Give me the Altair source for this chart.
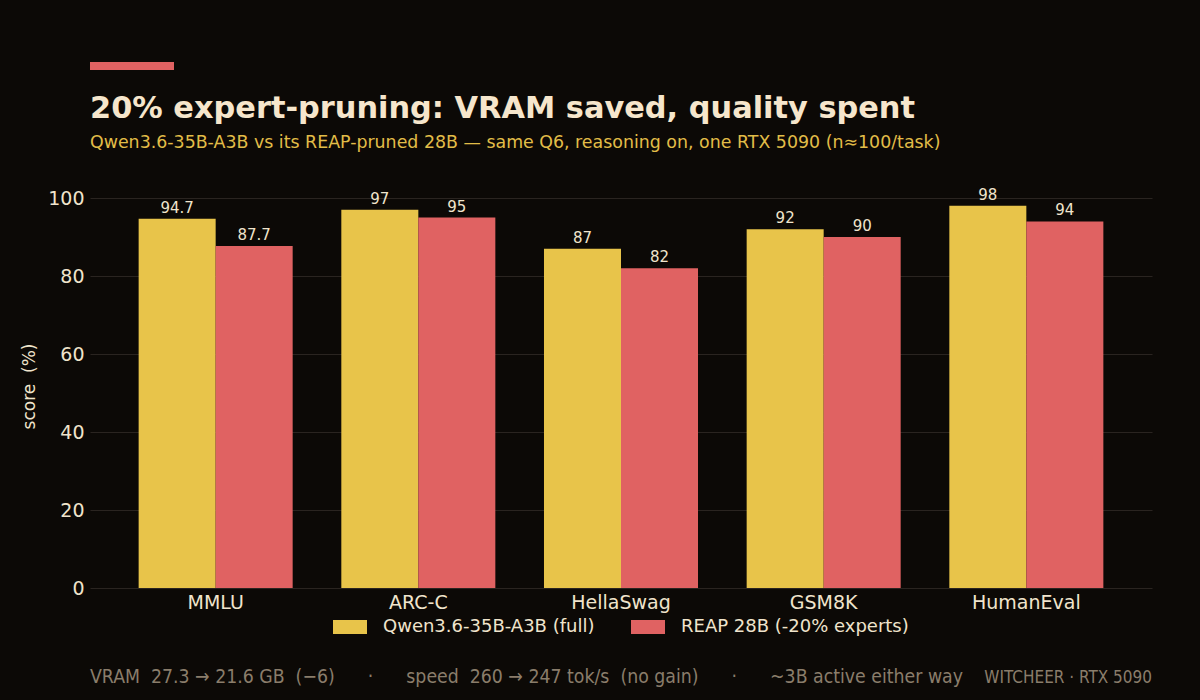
import altair as alt
import pandas as pd

benchmarks = ["MMLU", "ARC-C", "HellaSwag", "GSM8K", "HumanEval"]
models = ["Qwen3.6-35B-A3B (full)", "REAP 28B (-20% experts)"]
full_scores = [94.7, 97, 87, 92, 98]
reap_scores = [87.7, 95, 82, 90, 94]
colors = ["#e8c44a", "#e06262"]

title_text = "20% expert-pruning: VRAM saved, quality spent"
subtitle_text = "Qwen3.6-35B-A3B vs its REAP-pruned 28B \u2014 same Q6, reasoning on, one RTX 5090 (n\u2248100/task)"
NB = "\u00a0"
footer_text = (f"VRAM{NB}{NB}27.3 \u2192 21.6 GB{NB}{NB}(\u22126){NB*6}\u00b7{NB*6}"
               f"speed{NB}{NB}260 \u2192 247 tok/s{NB}{NB}(no gain){NB*6}\u00b7{NB*6}"
               f"~3B active either way")
credit_text = "WITCHEER \u00b7 RTX 5090"
y_title = f"score{NB}{NB}(%)"

rows = []
for b, f, r in zip(benchmarks, full_scores, reap_scores):
    rows.append({"benchmark": b, "model": models[0], "score": f, "label": f"{f:g}"})
    rows.append({"benchmark": b, "model": models[1], "score": r, "label": f"{r:g}"})
df = pd.DataFrame(rows)

BG = "#0c0906"
CREAM = "#f0e4cc"
W, H = 1062, 390

x_enc = alt.X("benchmark:N", sort=benchmarks, title=None,
              scale=alt.Scale(paddingInner=0.24, paddingOuter=0.24),
              axis=alt.Axis(labelAngle=0, labelFontSize=19, labelColor=CREAM,
                            labelFont="DejaVu Sans", labelPadding=5,
                            domain=False, ticks=False, grid=False))
y_scale = alt.Scale(domain=[0, 100], nice=False)

bars = alt.Chart(df).mark_bar().encode(
    x=x_enc,
    xOffset=alt.XOffset("model:N", sort=models),
    y=alt.Y("score:Q", scale=y_scale, title=y_title,
            axis=alt.Axis(values=[0, 20, 40, 60, 80, 100], labelFontSize=19,
                          labelColor=CREAM, labelFont="DejaVu Sans", labelPadding=6,
                          domain=False, ticks=False, gridColor="#2a2420",
                          gridWidth=1, titleFontSize=17, titleColor=CREAM,
                          titleFont="DejaVu Sans", titleFontWeight="normal",
                          titlePadding=9, titleY=188)),
    color=alt.Color("model:N", sort=models,
                    scale=alt.Scale(domain=models, range=colors),
                    legend=alt.Legend(title=None, orient="none", direction="horizontal",
                                      legendX=243, legendY=412,
                                      symbolType="M-1,-0.41H1V0.41H-1Z",
                                      symbolSize=1156, symbolStrokeWidth=0,
                                      labelFontSize=18, labelColor=CREAM,
                                      labelFont="DejaVu Sans", labelOffset=16,
                                      columnPadding=36, labelLimit=400)),
)

labels = alt.Chart(df).mark_text(baseline="bottom", dy=-3, fontSize=15,
                                 color=CREAM, font="DejaVu Sans").encode(
    x=alt.X("benchmark:N", sort=benchmarks),
    xOffset=alt.XOffset("model:N", sort=models),
    y=alt.Y("score:Q", scale=y_scale),
    text="label:N",
)

accent = alt.Chart(pd.DataFrame({"k": [0]})).mark_rect(color="#e06262", clip=False).encode(
    x=alt.value(0), x2=alt.value(84), y=alt.value(-136), y2=alt.value(-128))

title = alt.Chart(pd.DataFrame({"t": [title_text]})).mark_text(
    align="left", baseline="alphabetic", fontSize=30.4, fontWeight="bold",
    color="#f6e6cc", font="DejaVu Sans", clip=False).encode(
    x=alt.value(0), y=alt.value(-80), text="t:N")

subtitle = alt.Chart(pd.DataFrame({"t": [subtitle_text]})).mark_text(
    align="left", baseline="alphabetic", fontSize=17.4,
    color="#e2bd48", font="DejaVu Sans", clip=False).encode(
    x=alt.value(0), y=alt.value(-50), text="t:N")

footer = alt.Chart(pd.DataFrame({"t": [footer_text]})).mark_text(
    align="left", baseline="alphabetic", fontSize=19.3,
    color="#8a7d6b", font="DejaVu Sans Condensed, DejaVu Sans", clip=False).encode(
    x=alt.value(0), y=alt.value(485), text="t:N")

credit = alt.Chart(pd.DataFrame({"t": [credit_text]})).mark_text(
    align="right", baseline="alphabetic", fontSize=17,
    color="#8a7d6b", font="DejaVu Sans Condensed, DejaVu Sans", clip=False).encode(
    x=alt.value(W), y=alt.value(485), text="t:N")

chart = alt.layer(bars, labels, accent, title, subtitle, footer, credit).properties(
    width=W, height=H,
    background=BG,
    padding={"left": 90, "top": 198, "right": 48, "bottom": 112},
    autosize=alt.AutoSizeParams(type="none"),
).configure_view(stroke=None)

chart.save("out.html", embed_options={"renderer": "svg", "actions": False})
